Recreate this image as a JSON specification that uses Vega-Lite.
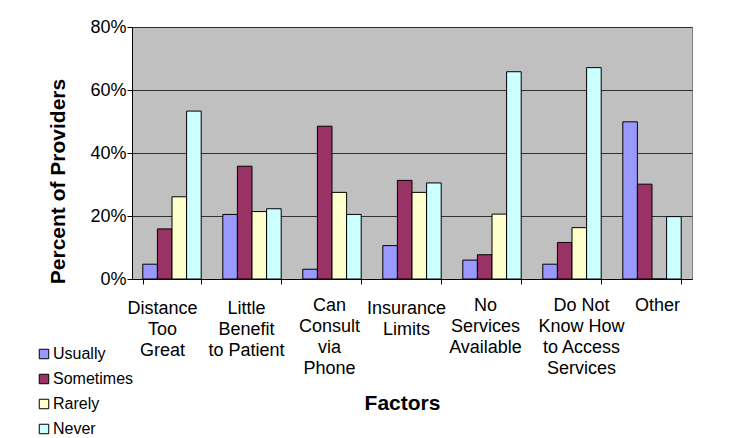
{
  "$schema": "https://vega.github.io/schema/vega-lite/v6.json",
  "autosize": {"type": "none"},
  "width": 560,
  "height": 252,
  "padding": {"left": 132, "top": 27, "right": 55, "bottom": 159},
  "background": "white",
  "config": {
    "font": "Liberation Sans",
    "view": {"fill": "#C0C0C0", "stroke": "#808080", "strokeWidth": 1},
    "axis": {
      "domainColor": "#000000",
      "tickColor": "#000000",
      "labelColor": "#000000",
      "titleColor": "#000000",
      "labelFont": "Liberation Sans",
      "titleFont": "Liberation Sans"
    },
    "legend": {"labelFont": "Liberation Sans"}
  },
  "data": {
    "values": [
      {"factor": "Distance Too Great", "frequency": "Usually", "percent": 0.047},
      {"factor": "Distance Too Great", "frequency": "Sometimes", "percent": 0.159},
      {"factor": "Distance Too Great", "frequency": "Rarely", "percent": 0.261},
      {"factor": "Distance Too Great", "frequency": "Never", "percent": 0.533},
      {"factor": "Little Benefit to Patient", "frequency": "Usually", "percent": 0.205},
      {"factor": "Little Benefit to Patient", "frequency": "Sometimes", "percent": 0.358},
      {"factor": "Little Benefit to Patient", "frequency": "Rarely", "percent": 0.214},
      {"factor": "Little Benefit to Patient", "frequency": "Never", "percent": 0.223},
      {"factor": "Can Consult via Phone", "frequency": "Usually", "percent": 0.031},
      {"factor": "Can Consult via Phone", "frequency": "Sometimes", "percent": 0.485},
      {"factor": "Can Consult via Phone", "frequency": "Rarely", "percent": 0.275},
      {"factor": "Can Consult via Phone", "frequency": "Never", "percent": 0.205},
      {"factor": "Insurance Limits", "frequency": "Usually", "percent": 0.106},
      {"factor": "Insurance Limits", "frequency": "Sometimes", "percent": 0.313},
      {"factor": "Insurance Limits", "frequency": "Rarely", "percent": 0.275},
      {"factor": "Insurance Limits", "frequency": "Never", "percent": 0.305},
      {"factor": "No Services Available", "frequency": "Usually", "percent": 0.06},
      {"factor": "No Services Available", "frequency": "Sometimes", "percent": 0.077},
      {"factor": "No Services Available", "frequency": "Rarely", "percent": 0.206},
      {"factor": "No Services Available", "frequency": "Never", "percent": 0.658},
      {"factor": "Do Not Know How to Access Services", "frequency": "Usually", "percent": 0.047},
      {"factor": "Do Not Know How to Access Services", "frequency": "Sometimes", "percent": 0.116},
      {"factor": "Do Not Know How to Access Services", "frequency": "Rarely", "percent": 0.163},
      {"factor": "Do Not Know How to Access Services", "frequency": "Never", "percent": 0.671},
      {"factor": "Other", "frequency": "Usually", "percent": 0.499},
      {"factor": "Other", "frequency": "Sometimes", "percent": 0.301},
      {"factor": "Other", "frequency": "Rarely", "percent": 0},
      {"factor": "Other", "frequency": "Never", "percent": 0.198}
    ]
  },
  "mark": {"type": "bar", "stroke": "#000000", "strokeWidth": 1},
  "encoding": {
    "x": {
      "field": "factor",
      "type": "nominal",
      "sort": null,
      "scale": {"paddingInner": 0.27, "paddingOuter": 0.135},
      "axis": {
        "title": "Factors",
        "titleFontSize": 21,
        "titleFontWeight": "bold",
        "titleX": 270,
        "titleY": 130,
        "titleAlign": "center",
        "titleBaseline": "alphabetic",
        "labelAngle": 0,
        "labelFontSize": 18,
        "labelLineHeight": 21.3,
        "labelBaseline": "alphabetic",
        "labelPadding": {
          "condition": [
            {"test": "datum.value == 'Can Consult via Phone' || datum.value == 'No Services Available' || datum.value == 'Do Not Know How to Access Services' || datum.value == 'Other'", "value": 26}
          ],
          "value": 29
        },
        "labelOffset": {
          "condition": [
            {"test": "datum.value == 'Distance Too Great'", "value": -10},
            {"test": "datum.value == 'Little Benefit to Patient'", "value": -6},
            {"test": "datum.value == 'Can Consult via Phone'", "value": -3},
            {"test": "datum.value == 'Insurance Limits'", "value": -6},
            {"test": "datum.value == 'No Services Available'", "value": -7},
            {"test": "datum.value == 'Do Not Know How to Access Services'", "value": 9},
            {"test": "datum.value == 'Other'", "value": 5}
          ],
          "value": 0
        },
        "labelOverlap": false,
        "labelBound": false,
        "labelFlush": false,
        "tickBand": "extent",
        "tickSize": 5,
        "labelExpr": "datum.value == 'Distance Too Great' ? ['Distance', 'Too', 'Great'] : datum.value == 'Little Benefit to Patient' ? ['Little', 'Benefit', 'to Patient'] : datum.value == 'Can Consult via Phone' ? ['Can', 'Consult', 'via', 'Phone'] : datum.value == 'Insurance Limits' ? ['Insurance', 'Limits'] : datum.value == 'No Services Available' ? ['No', 'Services', 'Available'] : datum.value == 'Do Not Know How to Access Services' ? ['Do Not', 'Know How', 'to Access', 'Services'] : datum.label"
      }
    },
    "xOffset": {
      "field": "frequency",
      "type": "nominal",
      "sort": ["Usually", "Sometimes", "Rarely", "Never"],
      "scale": {"paddingInner": 0, "paddingOuter": 0}
    },
    "y": {
      "field": "percent",
      "type": "quantitative",
      "scale": {"domain": [0, 0.8], "nice": false},
      "axis": {
        "title": "Percent of Providers",
        "titleFontSize": 21,
        "titleFontWeight": "bold",
        "titleAngle": -90,
        "titleX": -68,
        "titleY": 154,
        "titleAlign": "center",
        "titleBaseline": "alphabetic",
        "values": [0, 0.2, 0.4, 0.6, 0.8],
        "format": ".0%",
        "labelFontSize": 18,
        "labelPadding": 1,
        "tickSize": 5,
        "grid": true,
        "gridColor": "#303030",
        "gridOpacity": 1,
        "gridWidth": 1
      }
    },
    "color": {
      "field": "frequency",
      "type": "nominal",
      "scale": {
        "domain": ["Usually", "Sometimes", "Rarely", "Never"],
        "range": ["#9999FF", "#993366", "#FFFFCC", "#CCFFFF"]
      },
      "legend": {
        "title": null,
        "orient": "none",
        "legendX": -96,
        "legendY": 319,
        "padding": 0,
        "symbolType": "square",
        "symbolSize": 90,
        "symbolStrokeColor": "#000000",
        "symbolStrokeWidth": 1,
        "symbolOpacity": 1,
        "labelFontSize": 16,
        "labelColor": "#000000",
        "labelOffset": 1,
        "rowPadding": 9
      }
    }
  }
}
